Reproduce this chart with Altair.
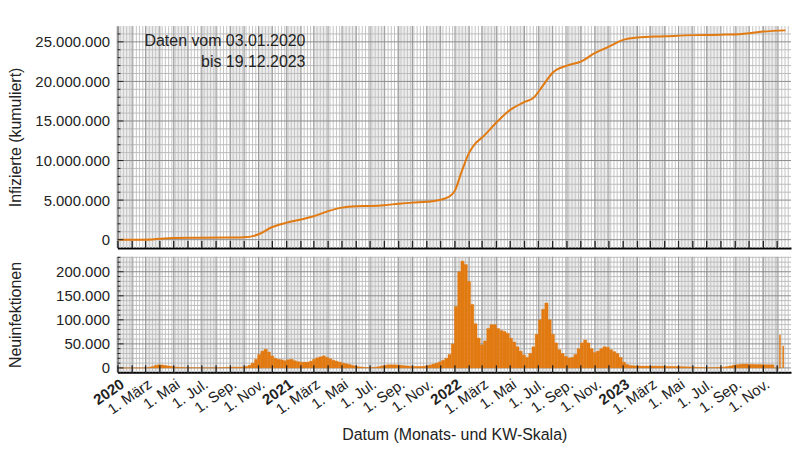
import altair as alt
import pandas as pd

# ---------------- data ----------------
# cumulative infections (line, top panel)
cum_dates = [
    "2020-01-03", "2020-02-20", "2020-03-15", "2020-04-01", "2020-05-01", "2020-07-01",
    "2020-09-01", "2020-10-01", "2020-10-20", "2020-11-01", "2020-12-01", "2021-01-01",
    "2021-02-01", "2021-03-01", "2021-04-01", "2021-05-01", "2021-06-01", "2021-07-01",
    "2021-08-01", "2021-09-01", "2021-10-01", "2021-11-01", "2021-12-01", "2021-12-20",
    "2022-01-01", "2022-01-15", "2022-02-01", "2022-02-15", "2022-03-01", "2022-04-01",
    "2022-05-01", "2022-06-01", "2022-06-20", "2022-07-10", "2022-08-01", "2022-09-01",
    "2022-10-01", "2022-11-01", "2022-12-01", "2023-01-01", "2023-02-01", "2023-04-01",
    "2023-06-01", "2023-08-01", "2023-09-15", "2023-11-01", "2023-12-19",
]
cum_values = [
    0, 3000, 25000, 110000, 210000, 240000,
    270000, 310000, 450000, 680000, 1600000, 2150000,
    2550000, 2950000, 3600000, 4050000, 4220000, 4260000,
    4360000, 4540000, 4680000, 4780000, 5050000, 5450000,
    6200000, 8500000, 11000000, 12200000, 12900000, 14800000,
    16400000, 17400000, 17900000, 19400000, 21100000, 22000000,
    22500000, 23600000, 24400000, 25250000, 25550000, 25700000,
    25850000, 25900000, 26000000, 26300000, 26450000,
]

# new infections per day, in thousands, one value per week starting 03.01.2020
first_week = "2020-01-03"
new_2020_k = [0, 0, 0, 0, 0, 0, 0, 0.05, 0.3, 1.2, 3.0, 5.5, 6.5, 6.0, 5.0, 4.0, 3.2,
              2.0, 1.2, 0.9, 0.7, 0.5, 0.4, 0.35, 0.3, 0.25, 0.25, 0.25, 0.3, 0.35, 0.4,
              0.5, 0.8, 1.2, 1.4, 1.5, 1.6, 1.7, 1.9, 2.8, 5.5, 10, 18, 28,
              35, 39, 33, 25, 20, 18, 17, 15]
new_2021_k = [17, 18, 15, 13, 12, 12, 12, 14, 18, 21, 23, 25, 22, 19, 16, 14, 12,
              10, 8.5, 7, 5, 3.5, 2.3, 1.6, 1.0, 0.9, 0.9, 1.3, 2.5, 4.0, 5.5,
              6.5, 6.5, 6.5, 6.0, 5.5, 4.5, 4.0, 3.5, 3.2, 3.0, 3.0, 3.5, 4.5,
              6.0, 8.0, 10, 12.5, 16, 20, 28, 50]
new_2022_k = [128, 200, 222, 215, 180, 132, 92, 62, 48, 56, 82, 90, 90, 82, 78, 76, 72, 62,
              54, 44, 35, 27, 22, 30, 44, 70, 100, 122, 135, 100, 70, 52, 38, 30, 24,
              21, 22, 28, 40, 52, 58, 52, 40, 32, 35, 40, 44, 43, 38, 34, 30, 22]
new_2023_k = [12, 7, 5, 4.5, 4, 4, 3.8, 3.8, 3.8, 3.8, 3.8, 3.6, 3.5, 3.4, 3.2,
              3.2, 3.0, 2.8, 2.6, 2.4, 2.2, 2.0, 1.6, 1.3, 1.0, 0.8, 0.7, 0.7, 0.8, 1.0,
              1.3, 1.8, 2.8, 4.0, 5.5, 6.5, 7.5, 8, 8, 7.5, 7.5, 7, 7, 7, 6.5,
              6.5, 6.5, 0, 0]
# single late reports (thin spikes)
spike_dates = ["2023-12-07", "2023-12-14"]
spike_values = [69000, 46000]

annotation = "Daten vom 03.01.2020\nbis 19.12.2023"
month_names = ["Jan.", "Feb.", "März", "Apr.", "Mai", "Juni", "Jul.", "Aug.",
               "Sep.", "Okt.", "Nov.", "Dez."]
title_top = "Infizierte (kumuliert)"
title_bottom = "Neuinfektionen"
title_x = "Datum (Monats- und KW-Skala)"

# ---------------- tables ----------------
cum_df = pd.DataFrame({"date": cum_dates, "value": cum_values})

new_k = new_2020_k + new_2021_k + new_2022_k + new_2023_k
wk = pd.date_range(first_week, periods=len(new_k), freq="7D")
new_df = pd.DataFrame({
    "start": wk.strftime("%Y-%m-%d"),
    "end": (wk + pd.Timedelta(days=7)).strftime("%Y-%m-%d"),
    "value": [v * 1000 for v in new_k],
})
spike_df = pd.DataFrame({"date": spike_dates, "value": spike_values})

months = pd.date_range("2020-01-01", "2023-12-01", freq="MS")
months_df = pd.DataFrame({
    "start": months.strftime("%Y-%m-%d"),
    "end": (months + pd.offsets.MonthBegin(1)).strftime("%Y-%m-%d"),
    "odd": months.month % 2 == 1,
})
shade_df = months_df[months_df["odd"]]
weeks_df = pd.DataFrame({"date": pd.date_range("2019-12-30", "2023-12-25", freq="W-MON").strftime("%Y-%m-%d")})
label_dates = pd.date_range("2020-01-01", "2023-11-01", freq="2MS")

# ---------------- style ----------------
FONT = "Liberation Sans"
ORANGE = "#e27a12"
W, H1, H2 = 677, 223, 116

xscale = alt.Scale(type="utc", domain=[
    alt.DateTime(year=2019, month=12, date=31, utc=True),
    alt.DateTime(year=2023, month=12, date=31, utc=True)])
y1scale = alt.Scale(domain=[-1040000, 27000000], nice=False, zero=False)
y2scale = alt.Scale(domain=[-9000, 231000], nice=False, zero=False)

num_expr = "replace(format(datum.value, ','), regexp(',', 'g'), '.')"
month_idx = "utcmonth(datum.value)"
names = "[" + ",".join(f"'{m}'" for m in month_names) + "]"

# one axis object per channel and panel, reused by every layer so they merge cleanly
x_top_axis = alt.Axis(labels=False, ticks=False, grid=False, title=None, domain=True,
                      domainColor="#000000", domainWidth=2, labelOverlap=False)
x_bot_axis = alt.Axis(
    values=[alt.DateTime(year=d.year, month=d.month, date=1, utc=True) for d in label_dates],
    labelExpr=f"{month_idx} === 0 ? utcFormat(datum.value, '%Y') : '1. ' + {names}[{month_idx}]",
    labelFontWeight={"condition": {"test": f"{month_idx} === 0", "value": "bold"},
                     "value": "normal"},
    labelAngle=-35, labelFontSize=15, labelPadding=4, labelFlush=False,
    labelOverlap=False, ticks=False, grid=False, domain=True,
    domainColor="#000000", domainWidth=2,
    title=title_x, titleFontSize=16, titleFontWeight="normal", titlePadding=10)


def yaxis(values, major, title, h):
    return alt.Axis(
        values=values,
        labelExpr=f"datum.value % {major} === 0 ? {num_expr} : ''",
        labelOverlap=False, labelFontSize=15, labelPadding=8,
        ticks=False, domain=True, domainColor="#000000", domainWidth=1,
        grid=False,
        title=title, titleFontSize=16, titleFontWeight="normal",
        titleX=-102, titleY=h / 2, titleBaseline="middle", titleAngle=270,
    )


top_vals = list(range(0, 26000001, 1000000))
bot_vals = list(range(0, 230001, 10000))
y_top_axis = yaxis(top_vals, 5000000, title_top, H1)
y_bot_axis = yaxis(bot_vals, 50000, title_bottom, H2)


def background(h, xaxis, yscale, yaxis_obj, values, major):
    shade = alt.Chart(shade_df).mark_rect(color="#000000", opacity=0.075).encode(
        x=alt.X("start:T", scale=xscale, axis=xaxis), x2="end:T",
        y=alt.value(0), y2=alt.value(h))
    wlines = alt.Chart(weeks_df).mark_rule(color="#c4c4c4", strokeWidth=1).encode(
        x=alt.X("date:T", scale=xscale, axis=xaxis), y=alt.value(0), y2=alt.value(h))
    df = pd.DataFrame({"v": values})
    df["major"] = df["v"] % major == 0
    hminor = alt.Chart(df[~df["major"]]).mark_rule(color="#bcbcbc", strokeWidth=1).encode(
        y=alt.Y("v:Q", scale=yscale, axis=yaxis_obj), x=alt.value(0), x2=alt.value(W))
    mlines = alt.Chart(months_df).mark_rule(color="#9c9c9c", strokeWidth=1).encode(
        x=alt.X("start:T", scale=xscale, axis=xaxis), y=alt.value(0), y2=alt.value(h))
    hmajor = alt.Chart(df[df["major"]]).mark_rule(color="#8c8c8c", strokeWidth=1).encode(
        y=alt.Y("v:Q", scale=yscale, axis=yaxis_obj), x=alt.value(0), x2=alt.value(W))
    return [shade, wlines, hminor, mlines, hmajor]


def ticks(h, xaxis, yscale, yaxis_obj, values, major):
    xt = alt.Chart(months_df).mark_rule(color="#222222", strokeWidth=1.3).encode(
        x=alt.X("start:T", scale=xscale, axis=xaxis), y=alt.value(h - 7), y2=alt.value(h))
    df = pd.DataFrame({"v": values})
    df["major"] = df["v"] % major == 0
    minor_t = alt.Chart(df[~df["major"]]).mark_rule(color="#222222").encode(
        y=alt.Y("v:Q", scale=yscale, axis=yaxis_obj), x=alt.value(0), x2=alt.value(3))
    major_t = alt.Chart(df[df["major"]]).mark_rule(color="#222222").encode(
        y=alt.Y("v:Q", scale=yscale, axis=yaxis_obj), x=alt.value(0), x2=alt.value(6))
    return [xt, minor_t, major_t]


# ---------------- top panel ----------------
line = alt.Chart(cum_df).mark_line(color=ORANGE, strokeWidth=2, interpolate="monotone").encode(
    x=alt.X("date:T", scale=xscale, axis=x_top_axis),
    y=alt.Y("value:Q", scale=y1scale, axis=y_top_axis),
)
note = alt.Chart(pd.DataFrame({"t": [annotation]})).mark_text(
    align="right", baseline="alphabetic", fontSize=16, lineHeight=21, lineBreak="\n",
    font=FONT, color="#222222").encode(x=alt.value(189), y=alt.value(20), text="t:N")

top = alt.layer(
    *background(H1, x_top_axis, y1scale, y_top_axis, top_vals, 5000000),
    line,
    *ticks(H1, x_top_axis, y1scale, y_top_axis, top_vals, 5000000),
    note,
).properties(width=W, height=H1)

# ---------------- bottom panel ----------------
bars = alt.Chart(new_df).mark_rect(color=ORANGE, stroke=ORANGE, strokeWidth=0.4).encode(
    x=alt.X("start:T", scale=xscale, axis=x_bot_axis),
    x2="end:T",
    y=alt.Y("value:Q", scale=y2scale, axis=y_bot_axis),
    y2=alt.datum(0),
)
spikes = alt.Chart(spike_df).mark_rule(color=ORANGE, strokeWidth=1.5).encode(
    x=alt.X("date:T", scale=xscale, axis=x_bot_axis),
    y=alt.Y("value:Q", scale=y2scale, axis=y_bot_axis),
    y2=alt.datum(0),
)
bottom = alt.layer(
    *background(H2, x_bot_axis, y2scale, y_bot_axis, bot_vals, 50000),
    bars, spikes,
    *ticks(H2, x_bot_axis, y2scale, y_bot_axis, bot_vals, 50000),
).properties(width=W, height=H2)

chart = alt.vconcat(top, bottom, spacing=1).properties(
    padding={"left": 0, "top": 16, "right": 0, "bottom": 0}
).configure_view(stroke=None).configure_axis(
    labelFont=FONT, titleFont=FONT, labelColor="#222222", titleColor="#222222",
    labelOverlap=False
).configure_text(font=FONT)

chart.save("out.html", embed_options={"renderer": "svg", "actions": False})
